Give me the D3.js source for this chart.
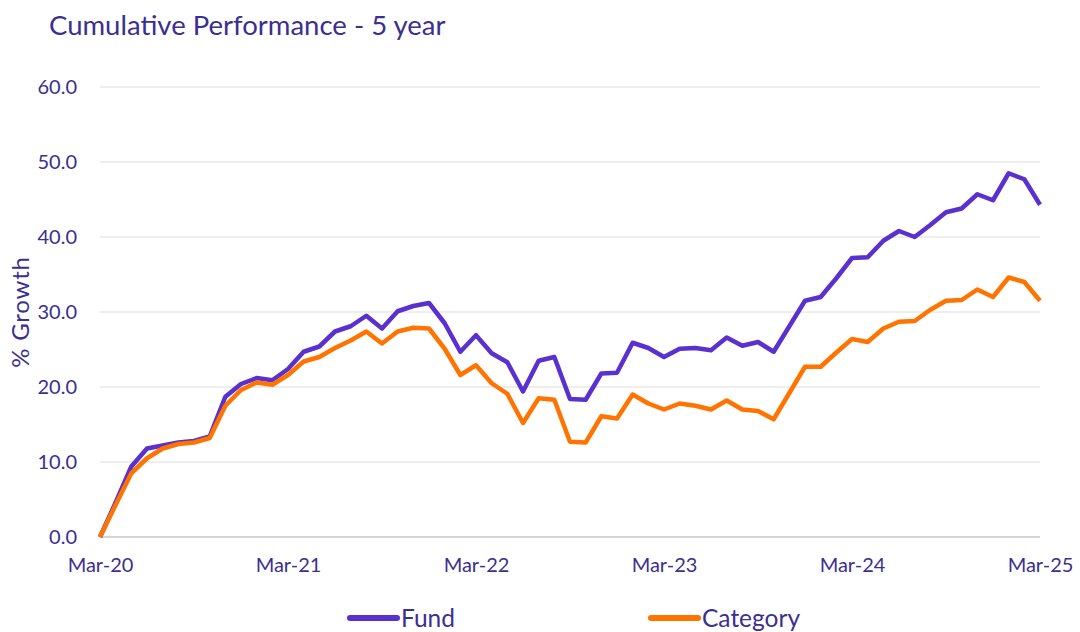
<!DOCTYPE html>
<html>
<head>
<meta charset="utf-8">
<script src="https://cdn.jsdelivr.net/npm/d3@7"></script>
<style>
  body { margin: 0; background: #fff; }
  text { font-family: "Lato", "DejaVu Sans", sans-serif; fill: #3b2f8f; }
</style>
</head>
<body>
<div id="app"></div>
<script>
// monthly points, Mar-20 .. Mar-25
const fund = [
  0, 4.6, 9.4, 11.8, 12.2, 12.6, 12.8, 13.4, 18.7, 20.4, 21.2, 20.9,
  22.4, 24.7, 25.4, 27.4, 28.1, 29.5, 27.8, 30.1, 30.8, 31.2, 28.5, 24.7,
  26.9, 24.5, 23.3, 19.4, 23.5, 24.0, 18.4, 18.3, 21.8, 21.9, 25.9, 25.2,
  24.0, 25.1, 25.2, 24.9, 26.6, 25.5, 26.0, 24.7, 28.1, 31.5, 32.0, 34.5,
  37.2, 37.3, 39.5, 40.8, 40.0, 41.6, 43.3, 43.8, 45.7, 44.9, 48.5, 47.7,
  44.3
]
const category = [
  0, 4.3, 8.5, 10.5, 11.8, 12.4, 12.6, 13.2, 17.5, 19.6, 20.6, 20.3,
  21.6, 23.4, 24.0, 25.2, 26.2, 27.4, 25.8, 27.4, 27.9, 27.8, 25.1, 21.6,
  22.9, 20.5, 19.1, 15.2, 18.5, 18.3, 12.7, 12.6, 16.1, 15.8, 19.0, 17.8,
  17.0, 17.8, 17.5, 17.0, 18.2, 17.0, 16.8, 15.7, 19.2, 22.7, 22.7, 24.6,
  26.4, 26.0, 27.8, 28.7, 28.8, 30.3, 31.5, 31.6, 33.0, 32.0, 34.6, 34.0,
  31.5
]
const xTickLabels = ['Mar-20', 'Mar-21', 'Mar-22', 'Mar-23', 'Mar-24', 'Mar-25']
const yTicks = [0, 10, 20, 30, 40, 50, 60]

const series = [
  { name: 'Fund', values: fund, color: '#5a30cf' },
  { name: 'Category', values: category, color: '#ff7400' }
]

const width = 1080
const height = 632
const margin = { left: 100, right: 40, top: 87, bottom: 95 }

const svg = d3.select('#app')
  .append('svg')
  .attr('width', width)
  .attr('height', height)

const x = d3.scaleLinear()
  .domain([0, fund.length - 1])
  .range([margin.left, width - margin.right])

const y = d3.scaleLinear()
  .domain([0, 60])
  .range([height - margin.bottom, margin.top])

// title
svg.append('text')
  .attr('x', 49)
  .attr('y', 35)
  .attr('font-size', 27.5)
  .text('Cumulative Performance - 5 year')

// gridlines
svg.append('g')
  .selectAll('line')
  .data(yTicks)
  .join('line')
  .attr('x1', x(0))
  .attr('x2', x(60))
  .attr('y1', d => y(d))
  .attr('y2', d => y(d))
  .attr('stroke', d => d === 0 ? '#d4d4d4' : '#eeeeee')
  .attr('stroke-width', 2)

// y axis labels
const yAxis = svg.append('g')
  .attr('transform', `translate(${margin.left - 20},0)`)
  .call(d3.axisLeft(y).tickValues(yTicks).tickFormat(d3.format('.1f')).tickSize(0))
yAxis.select('.domain').remove()
yAxis.selectAll('text')
  .attr('font-size', 20)
  .attr('font-family', null)
  .attr('fill', null)
  .attr('dx', '0')

// x axis labels
const xAxis = svg.append('g')
  .attr('transform', `translate(0,${y(0) + 18})`)
  .call(d3.axisBottom(x).tickValues([0, 12, 24, 36, 48, 60]).tickFormat((d, i) => xTickLabels[i]).tickSize(0))
xAxis.select('.domain').remove()
xAxis.selectAll('text')
  .attr('font-size', 20)
  .attr('fill', null)

// y axis title
svg.append('text')
  .attr('transform', `translate(29,${(y(0) + y(60)) / 2}) rotate(-90)`)
  .attr('text-anchor', 'middle')
  .attr('font-size', 24)
  .attr('letter-spacing', 0.8)
  .text('% Growth')

// lines
const line = d3.line()
  .x((d, i) => x(i))
  .y(d => y(d))

svg.append('g')
  .selectAll('path')
  .data(series)
  .join('path')
  .attr('d', d => line(d.values))
  .attr('fill', 'none')
  .attr('stroke', d => d.color)
  .attr('stroke-width', 4.5)
  .attr('stroke-linejoin', 'round')

// legend
const legendX = [350, 651]
const legend = svg.append('g')
  .selectAll('g')
  .data(series)
  .join('g')
  .attr('transform', (d, i) => `translate(${legendX[i]},618)`)

legend.append('line')
  .attr('x1', 0)
  .attr('x2', 47)
  .attr('stroke', d => d.color)
  .attr('stroke-width', 6)
  .attr('stroke-linecap', 'round')

legend.append('text')
  .attr('x', 51)
  .attr('y', 9)
  .attr('font-size', 24.5)
  .text(d => d.name)
</script>
</body>
</html>
